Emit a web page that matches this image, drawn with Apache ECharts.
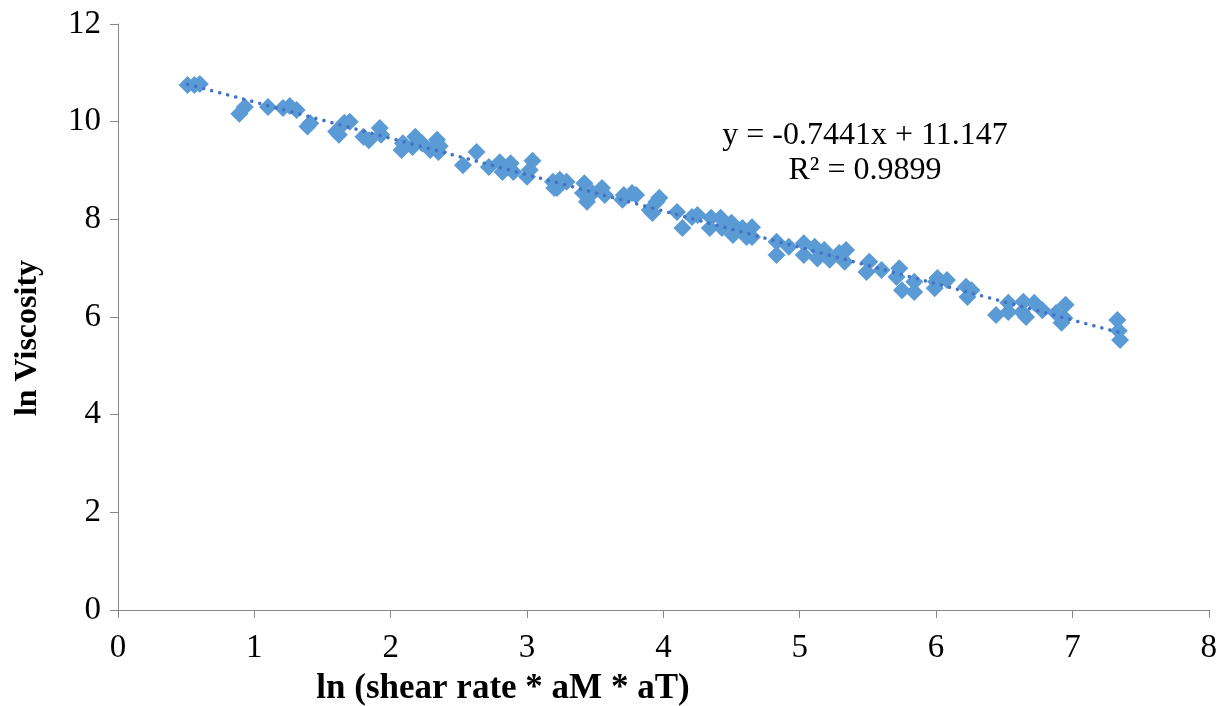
<!DOCTYPE html>
<html>
<head>
<meta charset="utf-8">
<script src="https://cdn.jsdelivr.net/npm/echarts@6/dist/echarts.min.js"></script>
<style>html,body{margin:0;padding:0;background:#fff}#c{width:1220px;height:706px}</style>
</head>
<body>
<div id="c"></div>
<script>
var xValues = [0.51,0.56,0.60,0.89,0.93,1.10,1.21,1.26,1.31,1.39,1.41,1.60,1.62,1.70,1.66,1.80,1.84,1.92,1.93,
  2.08,2.09,2.16,2.18,2.23,2.29,2.34,2.35,2.36,2.53,2.63,2.72,2.80,2.82,2.88,2.90,3.00,3.02,3.04,3.19,3.20,
  3.22,3.24,3.29,3.41,3.42,3.44,3.48,3.55,3.57,3.70,3.71,3.77,3.80,3.90,3.92,3.95,3.97,4.10,4.14,4.21,4.25,
  4.34,4.35,4.42,4.43,4.50,4.51,4.58,4.61,4.65,4.65,4.83,4.83,4.92,5.03,5.03,5.11,5.13,5.18,5.22,5.29,5.33,5.34,
  5.49,5.51,5.60,5.71,5.73,5.75,5.84,5.84,5.99,6.00,6.01,6.08,6.22,6.23,6.26,6.44,6.53,6.53,6.63,6.64,6.66,
  6.72,6.78,6.88,6.92,6.94,6.95,7.33,7.34,7.35];
var yValues = [10.75,10.75,10.77,10.16,10.30,10.30,10.28,10.32,10.24,9.90,9.97,9.80,9.73,10.00,9.98,9.69,9.62,9.87,9.73,
  9.42,9.56,9.48,9.69,9.56,9.42,9.63,9.38,9.50,9.11,9.38,9.07,9.17,8.97,9.15,8.97,8.87,9.01,9.20,8.77,8.64,
  8.64,8.81,8.77,8.54,8.74,8.36,8.54,8.64,8.50,8.40,8.50,8.54,8.50,8.19,8.13,8.36,8.44,8.15,7.82,8.05,8.09,
  7.82,8.03,8.03,7.82,7.93,7.68,7.82,7.64,7.84,7.64,7.54,7.27,7.44,7.51,7.27,7.44,7.20,7.37,7.17,7.31,7.13,7.37,
  6.92,7.13,6.96,6.82,7.00,6.55,6.72,6.51,6.59,6.72,6.80,6.76,6.62,6.41,6.55,6.04,6.29,6.10,6.10,6.31,6.00,
  6.29,6.14,6.08,5.88,5.98,6.25,5.94,5.72,5.53];
var xTicks = [0,1,2,3,4,5,6,7,8];
var yTicks = [0,2,4,6,8,10,12];
var slope = -0.7441, intercept = 11.147, r2 = 0.9899;

var pts = xValues.map(function(x,i){return [x,yValues[i]];});
var xmin = Math.min.apply(null,xValues), xmax = Math.max.apply(null,xValues);
var trend = [[xmin, slope*xmin+intercept],[xmax, slope*xmax+intercept]];

var chart = echarts.init(document.getElementById('c'));
var serif = '"Liberation Serif","Times New Roman",serif';
chart.setOption({
  animation:false,
  grid:{left:118,right:10,top:24,bottom:96,containLabel:false},
  xAxis:{type:'value',min:0,max:8,interval:1,
    axisLine:{lineStyle:{color:'#888',width:1}},
    axisTick:{show:true,length:8,lineStyle:{color:'#888'}},
    splitLine:{show:false},
    axisLabel:{color:'#000',fontFamily:serif,fontSize:33,margin:22}},
  yAxis:{type:'value',min:0,max:12,interval:2,
    axisLine:{show:true,lineStyle:{color:'#888',width:1}},
    axisTick:{show:true,length:8,lineStyle:{color:'#888'}},
    splitLine:{show:false},
    axisLabel:{color:'#000',fontFamily:serif,fontSize:33,margin:17}},
  graphic:[
    {type:'text',x:503,y:671,style:{text:'ln (shear rate * aM * aT)',font:'bold 35px '+serif,fill:'#000',textAlign:'center'}},
    {type:'text',rotation:Math.PI/2,x:12,y:338,style:{text:'ln Viscosity',font:'bold 32px '+serif,fill:'#000',textAlign:'center',textVerticalAlign:'top'}},
    {type:'text',x:865,y:120,style:{text:'y = -0.7441x + 11.147',font:'32px '+serif,fill:'#000',textAlign:'center'}},
    {type:'text',x:865,y:155,style:{text:'R² = '+r2,font:'32px '+serif,fill:'#000',textAlign:'center'}}
  ],
  series:[
    {type:'scatter',data:pts,symbol:'diamond',symbolSize:18,itemStyle:{color:'#5B9BD5',opacity:1},z:2},
    {type:'line',data:trend,symbol:'none',z:3,
      lineStyle:{color:'#4472C4',width:3.5,type:[0.1,8.2],cap:'round'}}
  ]
});
</script>
</body>
</html>
